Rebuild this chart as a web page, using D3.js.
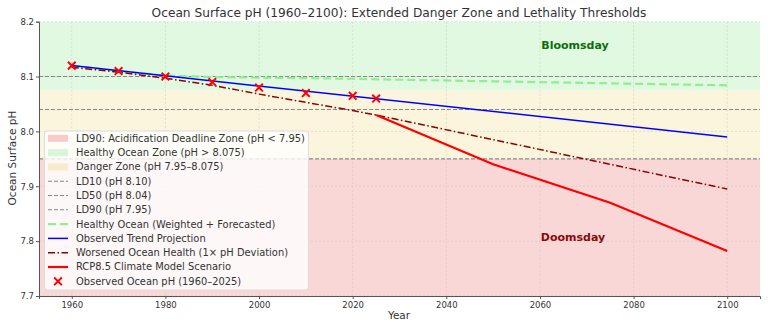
<!DOCTYPE html>
<html>
<head>
<meta charset="utf-8">
<script src="https://cdn.jsdelivr.net/npm/d3@7"></script>
<style>
  body { margin: 0; background: #fff; }
  svg { display: block; font-family: "DejaVu Sans", sans-serif; }
</style>
</head>
<body>
<div id="chart"></div>
<script>
// observed decadal surface pH
const obsYears = [1960, 1970, 1980, 1990, 2000, 2010, 2020, 2025];
const obsPH = [8.12, 8.11, 8.10, 8.09, 8.08, 8.07, 8.065, 8.06];

// linear trend projection
const trendYears = [1960, 2100];
const trendPH = [8.12, 7.99];

// healthy ocean (weighted + forecast)
const healthyYears = [1960, 1970, 1980, 1990, 2000, 2010, 2020, 2025, 2100];
const healthyPH = [8.12, 8.11, 8.102, 8.099, 8.098, 8.097, 8.096, 8.095, 8.084];

// worsened ocean health (1x deviation)
const worseYears = [1960, 1970, 1980, 1990, 2000, 2010, 2020, 2025, 2100];
const worsePH = [8.117, 8.108, 8.097, 8.084, 8.068, 8.053, 8.038, 8.03, 7.895];

// RCP8.5 scenario
const rcpYears = [2025, 2050, 2075, 2100];
const rcpPH = [8.03, 7.94, 7.87, 7.782];

// lethality thresholds
const thresholds = [8.10, 8.04, 7.95];
const healthyFloor = 8.075;
const dangerFloor = 7.95;

const xTicks = [1960, 1980, 2000, 2020, 2040, 2060, 2080, 2100];
const yTicks = [7.7, 7.8, 7.9, 8.0, 8.1, 8.2];

const width = 768, height = 329;
const svg = d3.select("#chart").append("svg")
  .attr("width", width).attr("height", height);

const x = d3.scaleLinear().domain([1953, 2107]).range([39, 760]);
const y = d3.scaleLinear().domain([7.7, 8.2]).range([296, 21.7]);

// background zones
svg.append("rect").attr("x", x(1953)).attr("width", x(2107) - x(1953))
  .attr("y", y(dangerFloor)).attr("height", y(7.7) - y(dangerFloor))
  .attr("fill", "#fad7d7");
svg.append("rect").attr("x", x(1953)).attr("width", x(2107) - x(1953))
  .attr("y", y(healthyFloor)).attr("height", y(dangerFloor) - y(healthyFloor))
  .attr("fill", "#faf5dc");
svg.append("rect").attr("x", x(1953)).attr("width", x(2107) - x(1953))
  .attr("y", y(8.2)).attr("height", y(healthyFloor) - y(8.2))
  .attr("fill", "#e1f9e1");

// grid
const grid = svg.append("g").attr("stroke", "#bbb").attr("stroke-opacity", 0.5)
  .attr("stroke-dasharray", "2,2").attr("stroke-width", 0.8);
grid.selectAll(".gx").data(xTicks).enter().append("line")
  .attr("x1", d => x(d)).attr("x2", d => x(d)).attr("y1", y(8.2)).attr("y2", y(7.7));
grid.selectAll(".gy").data(yTicks).enter().append("line")
  .attr("x1", x(1953)).attr("x2", x(2107)).attr("y1", d => y(d)).attr("y2", d => y(d));

// threshold lines
svg.selectAll(".thr").data(thresholds).enter().append("line")
  .attr("x1", x(1953)).attr("x2", x(2107))
  .attr("y1", d => y(d)).attr("y2", d => y(d))
  .attr("stroke", "#888").attr("stroke-width", 1.1).attr("stroke-dasharray", "4,2");

const line = d3.line().x(d => x(d[0])).y(d => y(d[1]));
const zip = (a, b) => a.map((v, i) => [v, b[i]]);

svg.append("path").datum(zip(healthyYears, healthyPH)).attr("d", line)
  .attr("fill", "none").attr("stroke", "#90ee90").attr("stroke-width", 2.2)
  .attr("stroke-dasharray", "8,4");
svg.append("path").datum(zip(trendYears, trendPH)).attr("d", line)
  .attr("fill", "none").attr("stroke", "#0000ff").attr("stroke-width", 1.5);
svg.append("path").datum(zip(worseYears, worsePH)).attr("d", line)
  .attr("fill", "none").attr("stroke", "#8b0000").attr("stroke-width", 1.5)
  .attr("stroke-dasharray", "7,2.5,1.5,2.5");
svg.append("path").datum(zip(rcpYears, rcpPH)).attr("d", line)
  .attr("fill", "none").attr("stroke", "#ff0000").attr("stroke-width", 2.2);

// observed markers
const cross = d3.symbol().type(d3.symbolX).size(40);
svg.selectAll(".obs").data(zip(obsYears, obsPH)).enter().append("path")
  .attr("d", cross)
  .attr("transform", d => `translate(${x(d[0])},${y(d[1])})`)
  .attr("fill", "none").attr("stroke", "#ff0000").attr("stroke-width", 2);

// zone labels
svg.append("text").attr("x", 575).attr("y", 45).attr("dy", "0.35em")
  .attr("text-anchor", "middle").attr("font-size", 11).attr("font-weight", "bold")
  .attr("fill", "#0b6e0b").text("Bloomsday");
svg.append("text").attr("x", 573).attr("y", 237.5).attr("dy", "0.35em")
  .attr("text-anchor", "middle").attr("font-size", 11).attr("font-weight", "bold")
  .attr("fill", "#8b0a0a").text("Doomsday");

// axes
const xAxis = svg.append("g").attr("transform", `translate(0,${y(7.7)})`)
  .call(d3.axisBottom(x).tickValues(xTicks).tickFormat(d3.format("d")).tickSize(3).tickPadding(3));
const yAxis = svg.append("g").attr("transform", `translate(${x(1953)},0)`)
  .call(d3.axisLeft(y).tickValues(yTicks).tickFormat(d3.format(".1f")).tickSize(3).tickPadding(2));
[xAxis, yAxis].forEach(g => {
  g.select(".domain").attr("stroke", "#555").attr("stroke-width", 1);
  g.selectAll(".tick line").attr("stroke", "#555");
  g.selectAll(".tick text").attr("fill", "#333").attr("font-size", 8.5)
    .attr("font-family", "DejaVu Sans, sans-serif");
});

svg.append("text").attr("x", 399).attr("y", 13).attr("dy", "0.35em")
  .attr("text-anchor", "middle").attr("font-size", 12.2).attr("fill", "#333")
  .text("Ocean Surface pH (1960–2100): Extended Danger Zone and Lethality Thresholds");
svg.append("text").attr("x", 399).attr("y", 315.5).attr("dy", "0.35em")
  .attr("text-anchor", "middle").attr("font-size", 10.5).attr("fill", "#333").text("Year");
svg.append("text").attr("transform", "translate(12,158) rotate(-90)").attr("dy", "0.35em")
  .attr("text-anchor", "middle").attr("font-size", 10.5).attr("fill", "#333").text("Ocean Surface pH");

// legend
const legendItems = [
  { label: "LD90: Acidification Deadline Zone (pH < 7.95)", kind: "patch", color: "#f8caca" },
  { label: "Healthy Ocean Zone (pH > 8.075)", kind: "patch", color: "#d8f6d8" },
  { label: "Danger Zone (pH 7.95–8.075)", kind: "patch", color: "#f6ecc8" },
  { label: "LD10 (pH 8.10)", kind: "line", color: "#888", dash: "4,2", w: 1.1 },
  { label: "LD50 (pH 8.04)", kind: "line", color: "#888", dash: "4,2", w: 1.1 },
  { label: "LD90 (pH 7.95)", kind: "line", color: "#888", dash: "4,2", w: 1.1 },
  { label: "Healthy Ocean (Weighted + Forecasted)", kind: "line", color: "#90ee90", dash: "8,4", w: 2.2 },
  { label: "Observed Trend Projection", kind: "line", color: "#0000ff", dash: null, w: 1.5 },
  { label: "Worsened Ocean Health (1× pH Deviation)", kind: "line", color: "#8b0000", dash: "7,2.5,1.5,2.5", w: 1.5 },
  { label: "RCP8.5 Climate Model Scenario", kind: "line", color: "#ff0000", dash: null, w: 2.2 },
  { label: "Observed Ocean pH (1960–2025)", kind: "marker", color: "#ff0000" }
];

const lg = svg.append("g");
lg.append("rect").attr("x", 44.5).attr("y", 131).attr("width", 264).attr("height", 159)
  .attr("rx", 3).attr("fill", "#fff").attr("fill-opacity", 0.8).attr("stroke", "#ddd");
const rowH = 14.3, row0 = 138.3;
const rows = lg.selectAll(".row").data(legendItems).enter().append("g")
  .attr("transform", (d, i) => `translate(0,${row0 + i * rowH})`);
rows.filter(d => d.kind === "patch").append("rect")
  .attr("x", 48).attr("y", -3.5).attr("width", 20).attr("height", 7).attr("fill", d => d.color);
rows.filter(d => d.kind === "line").append("line")
  .attr("x1", 48).attr("x2", 68).attr("y1", 0).attr("y2", 0)
  .attr("stroke", d => d.color).attr("stroke-width", d => d.w)
  .attr("stroke-dasharray", d => d.dash);
rows.filter(d => d.kind === "marker").append("path").attr("d", cross)
  .attr("transform", "translate(58,0)").attr("fill", "none")
  .attr("stroke", d => d.color).attr("stroke-width", 2);
rows.append("text").attr("x", 76).attr("dy", "0.35em").attr("font-size", 9.9)
  .attr("fill", "#333").text(d => d.label);
</script>
</body>
</html>
